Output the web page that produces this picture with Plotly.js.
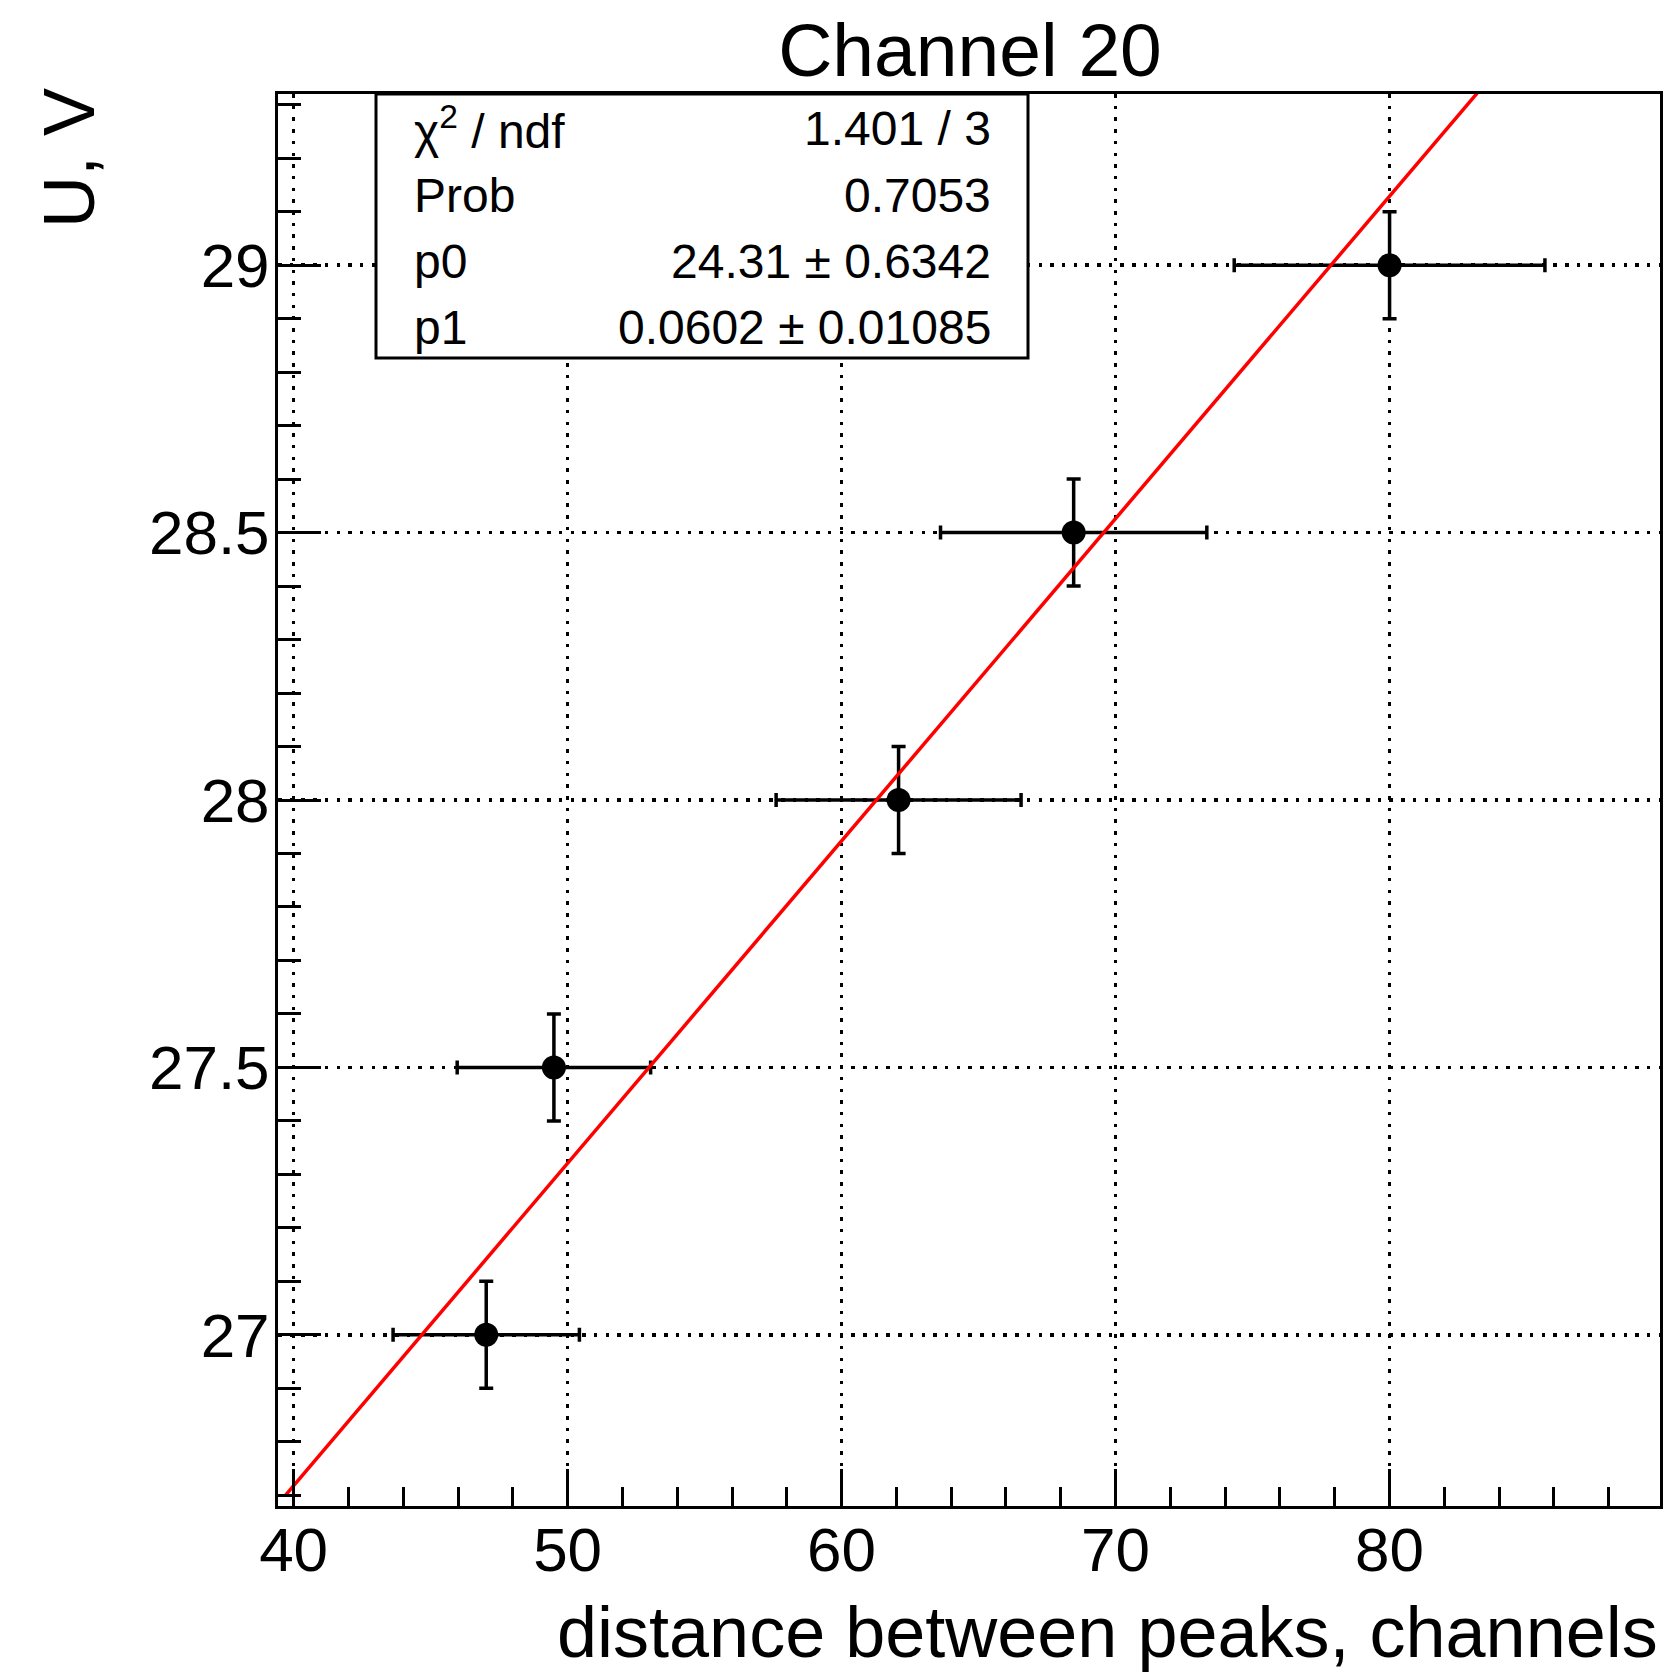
<!DOCTYPE html>
<html>
<head>
<meta charset="utf-8">
<script src="https://cdn.plot.ly/plotly-3.0.1.min.js"></script>
<style>html,body{margin:0;padding:0;background:#fff;}</style>
</head>
<body>
<div id="chart" style="width:1676px;height:1675px;"></div>
<script>
// Data points
const xVals = [47.03, 49.5, 62.08, 68.47, 80.0];
const yVals = [27.0, 27.5, 28.0, 28.5, 29.0];
const xErrs = [3.4, 3.53, 4.47, 4.86, 5.67];
const yErrs = [0.1, 0.1, 0.1, 0.1, 0.1];

// Fit line endpoints
const fitX = [39.7, 84.0];
const fitY = [26.70, 29.37];

// Stats box texts
const statLabels = ["χ<sup>2</sup> / ndf", "Prob", "p0", "p1"];
const statValues = ["1.401 / 3", "0.7053", "24.31 ± 0.6342", "0.0602 ± 0.01085"];

const FONT = "Liberation Sans, Arial, Helvetica, sans-serif";

const traces = [
  {
    type: "scatter", mode: "markers",
    x: xVals, y: yVals,
    error_x: {type: "data", array: xErrs, visible: true, color: "black", thickness: 3.5, width: 7},
    error_y: {type: "data", array: yErrs, visible: true, color: "black", thickness: 3.5, width: 7},
    marker: {size: 24, color: "black"},
    showlegend: false, hoverinfo: "skip"
  },
  {
    type: "scatter", mode: "lines",
    x: fitX, y: fitY,
    line: {color: "#ff0000", width: 3.5},
    showlegend: false, hoverinfo: "skip"
  }
];

const plotL = 278, plotR = 1660, plotT = 94, plotB = 1506;
const pw = plotR - plotL, ph = plotB - plotT;
const px = v => (v - plotL) / pw;
const py = v => 1 - (v - plotT) / ph;

const rowY = [128, 195.6, 261.9, 327];
const annotations = [];
statLabels.forEach((t, i) => {
  annotations.push({xref: "paper", yref: "paper", x: px(412), y: py(rowY[i]), xanchor: "left", yanchor: "middle",
    text: t, showarrow: false, font: {family: FONT, size: 48, color: "black"}});
  annotations.push({xref: "paper", yref: "paper", x: px(993), y: py(rowY[i]), xanchor: "right", yanchor: "middle",
    text: statValues[i], showarrow: false, font: {family: FONT, size: 48, color: "black"}});
});
annotations.push({xref: "paper", yref: "paper", x: px(69), y: py(86), xanchor: "center", yanchor: "top",
  text: "U, V", textangle: -90, showarrow: false, font: {family: FONT, size: 72, color: "black"}});
annotations.push({xref: "paper", yref: "paper", x: 1, y: py(1632), xanchor: "right", yanchor: "middle",
  text: "distance between peaks, channels", showarrow: false, font: {family: FONT, size: 72, color: "black"}});

const axisCommon = {
  showline: true, linewidth: 3, linecolor: "black", mirror: true,
  ticks: "inside", tickwidth: 3, tickcolor: "black",
  showgrid: true, gridcolor: "black", gridwidth: 3.5, griddash: "3.5px,8.2px",
  zeroline: false,
  tickfont: {family: FONT, size: 62, color: "black"}
};

const layout = {
  width: 1676, height: 1675,
  margin: {l: plotL, r: 1676 - plotR, t: plotT, b: 1675 - plotB, pad: 0},
  paper_bgcolor: "white", plot_bgcolor: "white",
  title: {text: "Channel 20", font: {family: FONT, size: 75, color: "black"},
    xref: "container", yref: "container", x: 970 / 1676, xanchor: "center", y: 1 - 50 / 1675, yanchor: "middle"},
  xaxis: Object.assign({}, axisCommon, {
    range: [39.43, 89.87], tick0: 0, dtick: 10, ticklen: 37, ticklabelstandoff: -12,
    minor: {tick0: 0, dtick: 2, ticks: "inside", ticklen: 19, tickwidth: 3, tickcolor: "black", showgrid: false}
  }),
  yaxis: Object.assign({}, axisCommon, {
    range: [26.68, 29.32], tick0: 0, dtick: 0.5, ticklen: 43, ticklabelstandoff: -7,
    minor: {tick0: 0, dtick: 0.1, ticks: "inside", ticklen: 23, tickwidth: 3, tickcolor: "black", showgrid: false}
  }),
  shapes: [{type: "rect", xref: "paper", yref: "paper", x0: px(376), x1: px(1028), y0: py(358), y1: 1,
    line: {color: "black", width: 3}, fillcolor: "white", layer: "above"}],
  annotations: annotations
};

Plotly.newPlot("chart", traces, layout, {staticPlot: true, displayModeBar: false});
</script>
</body>
</html>
